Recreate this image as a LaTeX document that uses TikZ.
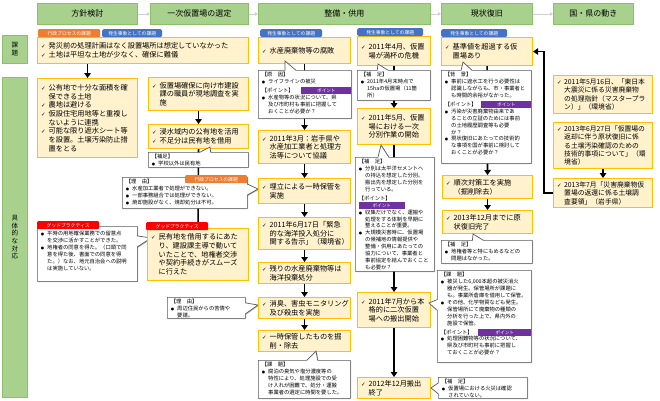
\documentclass[tikz,border=0pt]{standalone}
\usepackage{fontspec}
\setmainfont{Noto Sans CJK JP}
\newfontfamily\symf{DejaVu Sans}
\usetikzlibrary{shapes.callouts,arrows.meta,shadows}
\pgfdeclarelayer{bg}
\pgfsetlayers{bg,main}
\definecolor{hdrF}{HTML}{A9D18E}
\definecolor{hdrB}{HTML}{8CBF6A}
\definecolor{yF}{HTML}{FFF2CC}
\definecolor{yB}{HTML}{FFC000}
\definecolor{cB}{HTML}{595959}
\definecolor{tagO}{HTML}{ED7D31}
\definecolor{tagB}{HTML}{4472C4}
\definecolor{tagP}{HTML}{7030A0}
\definecolor{tagR}{HTML}{FF0000}
\definecolor{gArr}{HTML}{D0D0D0}
\newcommand\chk{{\symf\fontsize{5.5}{5.5}\selectfont ✓}}
\newcommand\ck[1]{\par\noindent\hangindent=1.05em\hangafter=1\makebox[1.05em][l]{\chk}#1\par}
\newcommand\bul[1]{\par\noindent\hangindent=1.2em\hangafter=1\makebox[1.2em][l]{\symf\fontsize{3.8}{3.8}\selectfont ●}#1\par}
\newcommand\hd[1]{\par\noindent#1\par}
\newcommand\gap{\par\vspace{2pt}}
\newcommand\ptag[1]{\hspace{0pt plus 1fill}{\setlength\fboxsep{0pt}\colorbox{tagP}{\makebox[#1pt]{\rule[-1.6pt]{0pt}{6.8pt}\textcolor{white}{\fontsize{4.6}{5}\selectfont ポイント}}}}}
\newcommand\pb[4]{\parbox[c][#2pt][#3]{#1pt}{\leftskip=3.5pt\rightskip=0pt plus 1fil\parindent=0pt\parfillskip=0pt plus 1fil\relax#4}}
\newcommand\pbt[3]{\pb{#1}{#2}{t}{\vspace*{2pt}#3}}
\tikzset{
 hdr/.style={draw=hdrB, fill=hdrF, line width=0.8pt, anchor=north west, inner sep=0, minimum height=21pt, font=\fontsize{8}{9}\selectfont},
 lbl/.style={draw=hdrB, fill=hdrF, line width=0.8pt, anchor=north west, inner sep=0, align=center, font=\fontsize{6.5}{7.6}\selectfont},
 ybox/.style={draw=yB, fill=yF, line width=1.1pt, anchor=north west, inner sep=0, font=\fontsize{7.2}{8.7}\selectfont},
 cbox/.style={rectangle callout, callout pointer width=11pt, draw=cB, fill=white, line width=0.7pt, anchor=north west, inner sep=0, font=\fontsize{5.3}{6.9}\selectfont, drop shadow={shadow xshift=0.8pt, shadow yshift=-0.8pt, opacity=0.3, fill=black}},
 tagbox/.style={anchor=north west, inner sep=0, minimum height=8pt, text=white, font=\fontsize{4.8}{5}\selectfont},
 arr/.style={line width=1.6pt, -{Triangle[length=5pt,width=6.5pt]}},
 harr/.style={draw=gArr, line width=0.8pt, -{Triangle[length=3pt,width=3.5pt]}},
}
\begin{document}
\begin{tikzpicture}[x=1pt,y=-1pt]
\useasboundingbox (0,0) rectangle (660,400);
% headers
\node[hdr, minimum width=100pt] (h1) at (37,3) {方針検討};
\node[hdr, minimum width=98pt] (h2) at (150,3) {一次仮置場の選定};
\node[hdr, minimum width=172pt] (h3) at (258,3) {整備・供用};
\node[hdr, minimum width=91pt] (h4) at (441,3) {現状復旧};
\node[hdr, minimum width=80pt] (h5) at (553,3) {国・県の動き};
% left labels
\node[lbl, minimum width=25pt, minimum height=28pt] (L1) at (2,35) {課\\題};
\node[lbl, minimum width=25pt, minimum height=320pt] (L2) at (2,77) {具\\体\\的\\な\\対\\応};
% row 1
\node[ybox] (r1) at (37,37) {\pb{211}{26}{c}{\ck{発災前の処理計画はなく設置場所は想定していなかった}\ck{土地は平坦な土地が少なく、確保に難儀}}};
% column 1
\node[ybox] (c1a) at (37,78) {\pb{100}{79}{c}{\ck{公有地で十分な面積を確\\保できる土地}\ck{農地は避ける}\ck{仮設住宅用地等と重複し\\ないように連携}\ck{可能な限り遮水シート等\\を設置。土壌汚染防止措\\置をとる}}};
\node[cbox, callout absolute pointer={(151,238)}] (k1a) at (37,226) {\pbt{100}{55}{\vspace*{3pt}\bul{平時の用地確保業務での留意点\\を交渉に活かすことができた。}\bul{地権者の同意を得た。（口頭で同\\意を得た後、書面での同意を得\\た。）なお、地元自治会への説明\\は実施していない。}}};
% column 2
\node[ybox] (c2a) at (148,77) {\pb{100}{33}{c}{\ck{仮置場確保に向け市建設\\課の職員が現地調査を実\\施}}};
\node[ybox] (c2b) at (148,124) {\pb{100}{24}{c}{\ck{浸水域内の公有地を活用}\ck{不足分は民有地を借用}}};
\node[cbox, callout absolute pointer={(210,147)}] (k2a) at (148,152) {\pbt{100}{15}{\hd{【補足】}\bul{学校以外は民有地}}};
\node[cbox, callout absolute pointer={(258,189)}] (k2b) at (122,177) {\pbt{125}{31}{\hd{【理　由】}\bul{水産加工業者で処理ができない。}\bul{一部事務組合では処理ができない。}\bul{焼却施設がなく、焼却処分は不可。}}};
\node[ybox] (c2c) at (147,228) {\pb{101}{52}{c}{\ck{民有地を借用するにあた\\り、建設課主導で動いて\\いたことで、地権者交渉\\や契約手続きがスムーズ\\に行えた}}};
\node[cbox, callout absolute pointer={(258,305)}] (k2c) at (167,297) {\pbt{78}{21}{\hd{【理　由】}\bul{周辺住民からの苦情や\\要請。}}};
% column 3
\node[ybox] (c3a) at (258,37) {\pb{92}{26}{c}{\ck{水産廃棄物等の腐敗}}};
\node[cbox, callout absolute pointer={(285,61)}] (k3a) at (258,70) {\pbt{93}{48}{\hd{【原　因】}\bul{ライフラインの被災}\gap\hd{【ポイント】\ptag{50}}\bul{水産物等の状況について、県\\及び市町村も事前に把握して\\おくことが必要か？}}};
\node[ybox] (c3b) at (258,130) {\pb{92}{33}{c}{\ck{2011年3月：岩手県や\\水産加工業者と処理方\\法等について協議}}};
\node[ybox] (c3c) at (258,178) {\pb{92}{25}{c}{\ck{埋立による一時保管を\\実施}}};
\node[ybox] (c3d) at (258,217) {\pb{92}{32}{c}{\ck{2011年6月17日「緊急\\的な海洋投入処分に\\関する告示」（環境省）}}};
\node[ybox] (c3e) at (258,262) {\pb{92}{21}{c}{\ck{残りの水産廃棄物等は\\海洋投棄処分}}};
\node[ybox] (c3f) at (258,297) {\pb{92}{21}{c}{\ck{消臭、害虫モニタリング\\及び殺虫を実施}}};
\node[ybox] (c3g) at (258,330) {\pb{92}{21}{c}{\ck{一時保管したものを掘\\削・除去}}};
\node[cbox, callout absolute pointer={(316,351)}] (k3b) at (258,360) {\pbt{92}{38}{\hd{【課　題】}\bul{腐泊の臭気や塩分濃度等の\\特性により、処理施設での受\\け入れが困難で、処分・運搬\\事業者の選定に時間を要した。}}};
% column 3b
\node[ybox] (c3h) at (357,36) {\pb{73}{29}{c}{\ck{2011年4月、仮置\\場が満杯の危機}}};
\node[cbox, callout absolute pointer={(378,64)}] (k3c) at (357,70) {\pbt{73}{30}{\hd{【補　足】}\bul{2011年4月末時点で\\15haの仮置場（11箇\\所）}}};
\node[ybox] (c3i) at (357,108) {\pb{73}{36}{c}{\ck{2011年5月、仮置\\場における一次\\分別作業の開始}}};
\node[cbox, callout absolute pointer={(381,145)}] (k3d) at (355,157) {\pbt{79}{114}{\hd{【補　足】}\bul{分別は太平洋セメントへ\\の持込を想定した分別。\\搬出先を想定した分別を\\行っている。}\gap\hd{【ポイント】\ptag{46}}\bul{収集だけでなく、運搬や\\処理をする体制を早期に\\整えることが重要。}\bul{大規模災害時に、仮置場\\の候補地の情報提供や\\整備・供用にあたっての\\協力について、事業者と\\事前協定を結んでおくこと\\も必要か？}}};
\node[ybox] (c3j) at (357,292) {\pb{73}{35}{c}{\ck{2011年7月から本\\格的に二次仮置\\場への搬出開始}}};
\node[ybox] (c3k) at (357,377) {\pb{73}{21}{c}{\ck{2012年12月搬出\\終了}}};
% column 4
\node[ybox] (c4a) at (441,37) {\pb{91}{28}{c}{\ck{基準値を超過する仮\\置場あり}}};
\node[cbox, callout absolute pointer={(463,62)}] (k4a) at (441,70) {\pbt{90}{93}{\hd{【背　景】}\bul{事前に遮水工を行う必要性は\\認識しながらも、市・事業者と\\も時間的余裕がなかった。}\gap\hd{【ポイント】\ptag{50}}\bul{汚染が災害廃棄物由来であ\\ることの立証のためには事前\\の土地履歴調査等も必要\\か？}\bul{現状復旧にあたっての技術的\\な事項を国が事前に検討して\\おくことが必要か？}}};
\node[ybox] (c4b) at (442,175) {\pb{90}{23}{c}{\ck{順次対策工を実施\\（掘削除去）}}};
\node[ybox] (c4c) at (442,210) {\pb{90}{23}{c}{\ck{2013年12月までに原\\状復旧完了}}};
\node[cbox, callout absolute pointer={(473,234)}] (k4b) at (441,240) {\pbt{91}{23}{\hd{【補　足】}\bul{地権者等と特にもめるなどの\\問題はなかった。}}};
\node[cbox, callout absolute pointer={(429,303)}] (k4c) at (437,270) {\pbt{94}{92}{\hd{【課　題】}\bul{被災した6,000本超の被災消火\\器が発生。保管場所が課題に\\も。事業所倉庫を借用して保管。}\bul{その他、化学物質なども発生。\\保管場所にて廃棄物の種類の\\分析を行った上で、県内外の\\施設で保管。}\gap\hd{【ポイント】\ptag{53}}\bul{処理困難物等の状況について、\\県及び市町村も事前に把握し\\ておくことが必要か？}}};
\node[cbox, callout absolute pointer={(431,388)}] (k4d) at (438,377) {\pbt{89}{21}{\hd{【補　足】}\bul{仮置場における火災は確認\\されていない。}}};
% column 5
\node[ybox, font=\fontsize{6.8}{8.4}\selectfont] (c5a) at (553,75) {\pb{99}{38}{c}{\ck{2011年5月16日、「東日本\\大震災に係る災害廃棄物\\の処理指針（マスタープラ\\ン）」（環境省）}}};
\node[ybox, font=\fontsize{6.8}{8.4}\selectfont] (c5b) at (553,122) {\pb{99}{46}{c}{\ck{2013年6月27日「仮置場の\\返却に伴う原状復旧に係\\る土壌汚染確認のための\\技術的事項について」（環\\境省）}}};
\node[ybox, font=\fontsize{6.8}{8.4}\selectfont] (c5c) at (553,178) {\pb{99}{29}{c}{\ck{2013年7月「災害廃棄物仮\\置場の返還に係る土壌調\\査要領」（岩手県）}}};
% tags
\node[tagbox, fill=tagO, minimum width=62pt, rounded corners=1pt] (tO1) at (38,29) {行政プロセスの課題};
\node[tagbox, fill=tagB, minimum width=60pt, rounded corners=1.5pt] (tB1) at (102,29) {発生事象としての課題};
\node[tagbox, fill=tagB, minimum width=62pt, rounded corners=1.5pt] (tB2) at (260,29) {発生事象としての課題};
\node[tagbox, fill=tagB, minimum width=66pt, rounded corners=1.5pt] (tB3) at (357,28) {発生事象としての課題};
\node[tagbox, fill=tagB, minimum width=66pt, rounded corners=1.5pt] (tB4) at (441,29) {発生事象としての課題};
\node[tagbox, fill=tagO, minimum width=62pt, rounded corners=1pt] (tO2) at (185,175) {行政プロセスの課題};
\node[tagbox, fill=tagR, minimum width=62pt, rounded corners=1pt] (tR1) at (37,221) {グッドプラクティス};
\node[tagbox, fill=tagR, minimum width=62pt, rounded corners=1pt] (tR2) at (146,222) {グッドプラクティス};
% connectors
\begin{pgfonlayer}{bg}
\draw[harr] (h1.east) -- (h2.west);
\draw[harr] (h2.east) -- (h3.west);
\draw[harr] (h3.east) -- (h4.west);
\draw[harr] (h4.east) -- (h5.west);
\draw[arr] (r1.south -| c1a.north) -- (c1a.north);
\draw[arr] (c2a.south) -- (c2b.north);
\draw[arr] (c2b.south) -- (c2c.north);
\draw[arr] (c3a.south) -- (c3b.north);
\draw[arr] (c3b.south) -- (c3c.north);
\draw[arr] (c3c.south) -- (c3d.north);
\draw[arr] (c3d.south) -- (c3e.north);
\draw[arr] (c3e.south) -- (c3f.north);
\draw[arr] (c3f.south) -- (c3g.north);
\draw[arr] (c3h.south) -- (c3i.north);
\draw[arr] (c3i.south) -- (c3j.north);
\draw[arr] (c3j.south) -- (c3k.north);
\draw[arr] (c4a.south) -- (c4b.north);
\draw[arr] (c4b.south) -- (c4c.north);
\draw[arr] (c5b.south) -- (c5c.north);
\draw[arr] (c5c.west) -- ++(-9,0) |- (c4a.east);
\end{pgfonlayer}
\end{tikzpicture}
\end{document}
